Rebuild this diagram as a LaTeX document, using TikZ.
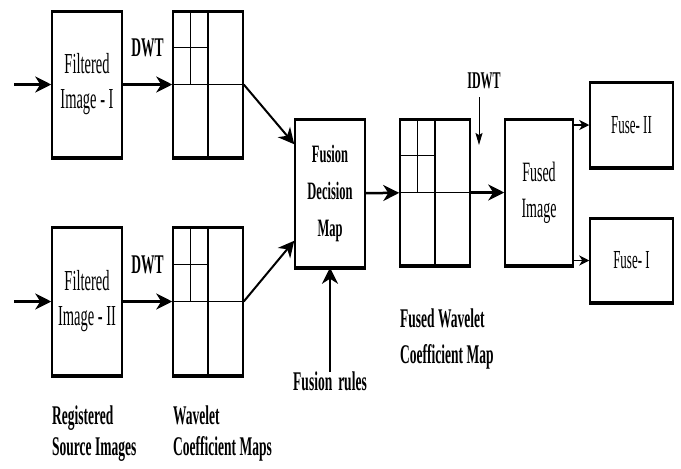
\documentclass[tikz,border=0pt]{standalone}
\usepackage{fontspec}
\setmainfont{Liberation Serif}[FakeStretch=0.5]
\usepackage{tikz}
\usetikzlibrary{arrows.meta,calc}

\begin{document}
\begin{tikzpicture}[
    x=1pt, y=-1pt,
    box/.style={draw=black, line width=1.5pt, rectangle, inner sep=0pt, minimum width=70pt, minimum height=145pt, align=center, font=\fontsize{29}{35}\selectfont},
    wmap/.style={draw=black, line width=1.5pt, rectangle, inner sep=0pt, minimum width=70pt, minimum height=145pt},
    outbox/.style={draw=black, line width=1.5pt, rectangle, inner sep=0pt, minimum width=83pt, minimum height=84pt, font=\fontsize{26}{30}\selectfont},
    lbl/.style={inner sep=0pt, align=left, font=\bfseries\fontsize{27}{36}\selectfont},
    arrow/.style={-{Stealth[length=16pt, width=16pt, inset=5pt]}, line width=2.5pt},
    slim/.style={-{Stealth[length=12pt, width=7pt, inset=2pt]}, line width=1pt},
    small/.style={-{Stealth[length=10pt, width=10pt, inset=3pt]}, line width=1.5pt}
]
  \useasboundingbox (0,0) rectangle (681,469);

  % Nodes
  \node (filtA) [box] at (87,84.5) {Filtered\\Image - I};
  \node (filtB) [box, minimum height=147pt] at (87,301.5) {Filtered\\Image - II};
  \node (wmapA) [wmap] at (208,84.5) {};
  \node (wmapB) [wmap, minimum height=147pt] at (208,301.5) {};
  \node (fusion) [box, minimum height=147pt, font=\bfseries\fontsize{25}{37}\selectfont] at (330,193.5) {Fusion\\Decision\\Map};
  \node (fmap) [wmap] at (435,192.5) {};
  \node (fused) [box, minimum width=68pt, font=\fontsize{28}{36}\selectfont] at (539,192.5) {Fused\\Image};
  \node (fuseB) [outbox] at (631.5,125) {Fuse- II};
  \node (fuseA) [outbox, minimum height=83pt] at (631.5,260.5) {Fuse- I};

  \node (regsrc) [lbl, anchor=north west, font=\bfseries\fontsize{27}{31}\selectfont] at (52,406) {Registered\\Source Images};
  \node (wavcoef) [lbl, anchor=north west, font=\bfseries\fontsize{27}{31}\selectfont] at (173,406) {Wavelet\\Coefficient Maps};
  \node (fwcoef) [lbl, anchor=north west] at (400,309) {Fused Wavelet\\Coefficient Map};
  \node (rules) [lbl, anchor=north] at (330,372) {Fusion\hspace{6pt}rules};
  \node (idwt) [lbl, font=\bfseries\fontsize{24}{28}\selectfont] at (484,81) {IDWT};

  \coordinate (inA) at (14,84.5);
  \coordinate (inB) at (14,301.5);
  \coordinate (idwtTip) at (479,145);

  % Heavier top and bottom edges
  \foreach \b in {filtA,filtB,wmapA,wmapB,fusion,fmap,fused,fuseB,fuseA}
    \draw [line width=3.5pt] (\b.north west) -- (\b.north east) (\b.south west) -- (\b.south east);

  % Sub-bands
  \foreach \m in {wmapA,wmapB,fmap}
    \draw [line width=1.1pt] (\m.north) -- (\m.south) (\m.west) -- (\m.east)
      ($(\m.north west)!0.5!(\m.north)$) -- ($(\m.west)!0.5!(\m.center)$)
      ($(\m.north west)!0.5!(\m.west)$) -- ($(\m.north)!0.5!(\m.center)$);

  % Arrows
  \draw [arrow] (inA) -- (filtA.west);
  \draw [arrow] (inB) -- (filtB.west);
  \draw [arrow, line width=3pt] (filtA) -- node (dwtA) [lbl, above=26pt] {DWT} (wmapA);
  \draw [arrow, line width=3pt] (filtB) -- node (dwtB) [lbl, above=26pt] {DWT} (wmapB);
  \draw [arrow, line width=2pt] (wmapA.east) -- ([yshift=-25pt]fusion.north west);
  \draw [arrow, line width=2pt] (wmapB.east) -- ([yshift=27pt]fusion.south west);
  \draw [arrow, line width=2pt] (rules.north) -- (fusion.south);
  \draw [arrow] (fusion) -- (fmap);
  \draw [arrow] (fmap) -- (fused);
  \draw [slim, shorten <=8pt] (idwt.south -| idwtTip) -- (idwtTip);
  \draw [small] (fused.east |- fuseB) -- (fuseB.west);
  \draw [small] (fused.east |- fuseA) -- (fuseA.west);

\end{tikzpicture}
\end{document}
